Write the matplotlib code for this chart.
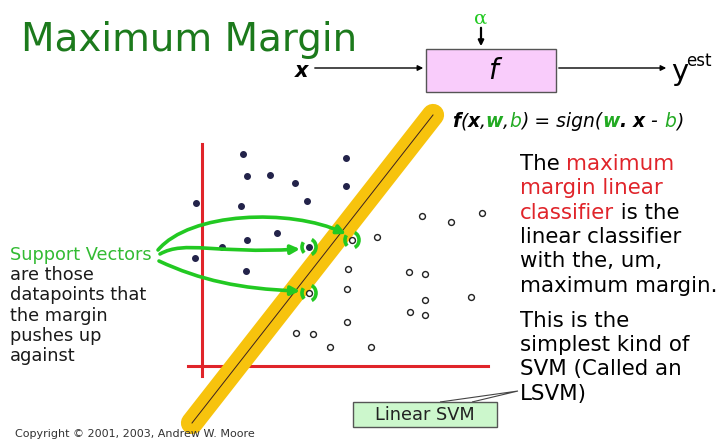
import matplotlib
matplotlib.use('Agg')
import matplotlib.pyplot as plt
from matplotlib.patches import Rectangle, FancyArrowPatch, Arc, Polygon
from matplotlib.path import Path

# --- data (slide pixel coordinates, y grows downward) ---
pos_x = [243, 247, 270, 295, 346, 346, 196, 241, 307, 277, 247, 222, 195, 246, 309]
pos_y = [154, 176, 175, 183, 158, 186, 203, 206, 201, 233, 240, 247, 258, 271, 247]
neg_x = [352, 377, 348, 422, 451, 482, 409, 425, 347, 309, 425, 471, 410, 425, 347, 296, 313, 330, 371]
neg_y = [240, 237, 269, 216, 222, 213, 272, 274, 289, 293, 300, 297, 312, 315, 322, 333, 334, 347, 347]
sv_x = [352, 309, 309]
sv_y = [240, 247, 293]

boundary_x = [192, 433]
boundary_y = [423, 115]

axis_v = ([202, 202], [144, 376])
axis_h = ([188, 488], [366, 366])

# bezier control points of the three hand-drawn arrows
sv_arrows = [
    [(158, 250), (190, 212), (290, 208), (346, 234)],
    [(160, 254), (185, 240), (215, 254), (300, 249)],
    [(159, 261), (200, 280), (240, 289), (300, 291)],
]

right_lines = [
    [("The ", 'k'), ("maximum", 'r')],
    [("margin linear", 'r')],
    [("classifier", 'r'), (" is the", 'k')],
    [("linear classifier", 'k')],
    [("with the, um,", 'k')],
    [("maximum margin.", 'k')],
    None,
    [("This is the", 'k')],
    [("simplest kind of", 'k')],
    [("SVM (Called an", 'k')],
    [("LSVM)", 'k')],
]
left_lines = ["Support Vectors", "are those", "datapoints that", "the margin",
              "pushes up", "against"]

GREEN = '#22c922'
RED = '#e0242a'

fig = plt.figure(figsize=(7.23, 4.41), dpi=100)
ax = fig.add_axes([0, 0, 1, 1])
ax.set_xlim(0, 723)
ax.set_ylim(441, 0)
ax.axis('off')
renderer = fig.canvas.get_renderer()


def runs(x, y, parts, **kw):
    # draw pieces of text one after another on the same baseline
    for s, c, extra in parts:
        opts = dict(kw)
        opts.update(extra)
        t = ax.text(x, y, s, color=c, va='baseline', ha='left', **opts)
        bb = t.get_window_extent(renderer=renderer)
        x = x + bb.width  # 1 data unit == 1 pixel
    return x


# title
ax.text(21, 51, "Maximum Margin", fontsize=28, color='#1c7a1c', va='baseline')

# block diagram
ax.add_patch(Rectangle((426, 49), 130, 43, fc='#f9ccfb', ec='#555555', lw=1))
ax.text(493, 71, "f", fontsize=20, style='italic', ha='center', va='center')
ax.text(302, 71, "x", fontsize=15, style='italic', weight='bold', ha='center', va='center')
ax.annotate("", xy=(426, 68), xytext=(312, 68),
            arrowprops=dict(arrowstyle='-|>', color='k', lw=1, mutation_scale=8))
ax.annotate("", xy=(669, 68), xytext=(556, 68),
            arrowprops=dict(arrowstyle='-|>', color='k', lw=1, mutation_scale=8))
ax.annotate("", xy=(481, 49), xytext=(481, 25),
            arrowprops=dict(arrowstyle='-|>', color='k', lw=1.6, mutation_scale=8))
ax.text(481, 19, "α", fontsize=14, color=GREEN, family='DejaVu Serif', ha='center', va='center')
ax.text(671, 80, "y", fontsize=21, va='baseline')
ax.text(686, 66, "est", fontsize=12, va='baseline')

# formula
bi = dict(style='italic', weight='bold')
it = dict(style='italic')
runs(452, 127, [("f", 'k', bi), ("(", 'k', it), ("x", 'k', bi), (",", 'k', it),
                ("w", '#22aa22', bi), (",", 'k', it), ("b", '#22aa22', it),
                (") = sign(", 'k', it), ("w", '#22aa22', bi), (". ", 'k', bi),
                ("x", 'k', bi), (" - ", 'k', it), ("b", '#22aa22', it), (")", 'k', it)],
     fontsize=13.5)

# margin band and decision boundary
ax.plot(boundary_x, boundary_y, color='#f7c30d', lw=16, solid_capstyle='round', zorder=2)
ax.plot(boundary_x, boundary_y, color='#3a2020', lw=0.7, zorder=3)

# red axes
ax.plot(*axis_v, color=RED, lw=2.2, zorder=1)
ax.plot(*axis_h, color=RED, lw=2.2, zorder=1)

# data points
ax.scatter(pos_x, pos_y, s=16, color='#23234a', zorder=4)
ax.scatter(neg_x, neg_y, s=18, facecolor='white', edgecolor='#222222', lw=1.0, zorder=4)

# green arrows and hooks around support vectors
for pts in sv_arrows:
    path = Path(pts, [Path.MOVETO, Path.CURVE4, Path.CURVE4, Path.CURVE4])
    ax.add_patch(FancyArrowPatch(path=path, arrowstyle='-|>', color=GREEN, lw=2.6,
                                 mutation_scale=13, zorder=5))
for x, y in zip(sv_x, sv_y):
    ax.add_patch(Arc((x, y), 14, 16, theta1=-70, theta2=70, color=GREEN, lw=2.6, zorder=5))
    ax.add_patch(Arc((x, y), 14, 16, theta1=130, theta2=220, color=GREEN, lw=2.6, zorder=5))

# left annotation text
ax.text(10, 255, left_lines[0], fontsize=12.8, color='#33bb33', va='center')
for i, s in enumerate(left_lines[1:]):
    ax.text(10, 275 + i * 20.3, s, fontsize=12.8, color='#1a1a1a', va='center')

# right explanation text
y = 170
for line in right_lines:
    if line is None:
        y += 11
        continue
    runs(520, y, [(s, 'k' if c == 'k' else RED, {}) for s, c in line], fontsize=15.4)
    y += 24.3

# Linear SVM callout
ax.add_patch(Polygon([(440, 402), (518, 391), (472, 402)], closed=False,
                     fill=False, ec='#444444', lw=0.8, zorder=6))
ax.add_patch(Rectangle((353, 402), 144, 25, fc='#ccf7cc', ec='#555555', lw=1, zorder=6))
ax.text(425, 415, "Linear SVM", fontsize=12.8, ha='center', va='center', color='#222222', zorder=7)

# copyright
ax.text(15, 434, "Copyright © 2001, 2003, Andrew W. Moore", fontsize=8,
        color='#333333', va='center')

fig.savefig('out.png', dpi=100, facecolor='white')
